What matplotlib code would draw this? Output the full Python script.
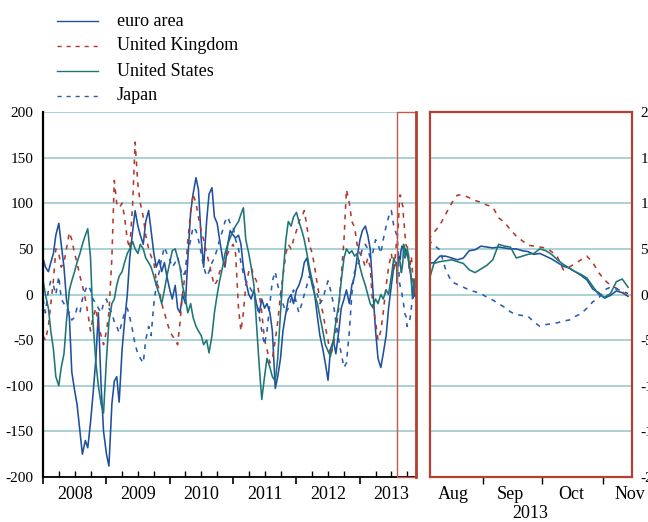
import numpy as np
import pandas as pd
import matplotlib
matplotlib.use("Agg")
import matplotlib.pyplot as plt
import matplotlib.dates as mdates
from matplotlib.lines import Line2D
from matplotlib.patches import Rectangle
from matplotlib.transforms import blended_transform_factory

plt.rcParams['font.family'] = ['Liberation Serif', 'DejaVu Serif']
plt.rcParams['axes.unicode_minus'] = False

# semi-monthly history, Jan 2008 - Aug 2013 (one row = half a year)
left_dates = pd.date_range("2008-01-01", "2013-08-01", freq="SMS")

euro_left = [
    40, 30, 25, 35, 45, 65, 78, 55, 30, -5, -25, -85,
    -105, -120, -150, -175, -160, -168, -140, -110, -70, -20, -100, -150,
    -175, -188, -120, -95, -90, -118, -60, -30, 0, 40, 70, 92,
    75, 65, 55, 80, 92, 70, 45, 30, 38, 25, 35, 20,
    5, -5, 10, -15, -20, 0, -10, 40, 90, 110, 128, 115,
    60, 30, 80, 110, 117, 85, 78, 60, 40, 30, 55, 70,
    65, 62, 65, 55, 30, 15, 0, -5, 5, -10, -20, -5,
    -15, -10, -20, -40, -103, -90, -70, -40, -20, -5, 0, -10,
    5, 10, 20, 35, 40, 25, 10, 0, -25, -45, -60, -75,
    -94, -60, -50, -65, -40, -15, -5, 5, -10, 10, 20, 40,
    60, 70, 75, 65, 50, 10, -40, -70, -80, -65, -45, -15,
    10, 30, 35,
]
uk_left = [
    -45, -50, -35, -10, 15, 50, 45, 30, 35, 50, 68, 60,
    45, 35, 20, 10, -5, -20, -40, -25, -15, -35, -45, -55,
    -40, -20, 40, 125, 100, 95, 100, 85, 60, 50, 100, 167,
    120, 100, 85, 65, 50, 42, 35, 15, 5, -10, -20, -30,
    -40, -45, -50, -55, -30, 0, 25, 60, 90, 110, 100, 85,
    70, 60, 45, 35, 20, 10, 15, 25, 30, 35, 45, 50,
    55, 45, -15, -40, -20, 10, 25, 30, 20, 15, 0, -20,
    -50, -60, -75, -70, -50, -30, 0, 20, 45, 55, 50, 60,
    70, 80, 85, 92, 75, 55, 45, 30, 10, -5, -20, -35,
    -50, -68, -55, -40, -15, 20, 60, 115, 100, 80, 74, 55,
    45, 40, 30, 40, 30, -10, -30, -50, -40, -20, 10, 30,
    45, 25, 60,
]
us_left = [
    16, 0, -15, -40, -60, -90, -100, -80, -65, -30, 5, 15,
    25, 35, 45, 55, 65, 72, 40, -30, -75, -100, -120, -130,
    -70, -30, -10, -5, 10, 20, 25, 35, 45, 50, 58, 50,
    45, 55, 50, 40, 35, 30, 20, 10, 0, -10, 5, 20,
    35, 48, 50, 40, 30, 10, -5, -20, -10, -25, -35, -40,
    -45, -55, -50, -64, -45, -20, 0, 15, 30, 45, 55, 62,
    70, 75, 80, 88, 95, 60, 45, 30, 10, -30, -80, -115,
    -90, -70, -80, -90, -95, -70, -20, 20, 60, 80, 75, 85,
    90, 80, 70, 60, 45, 30, 15, 0, -10, -24, -40, -55,
    -62, -68, -50, -30, -10, 15, 40, 50, 45, 48, 42, 45,
    30, 20, 10, 0, -10, -14, -5, -10, 0, -5, 5, 0,
    20, 40, 30,
]
japan_left = [
    -5, -20, 5, 15, 10, 0, 20, -5, -10, -15, -20, -28,
    -25, -15, -20, -5, 5, 10, 5, -5, -10, -15, -20, -10,
    -5, -15, -20, -30, -35, -42, -30, -20, -15, -25, -40, -55,
    -65, -70, -75, -50, -35, -45, -10, 10, 25, 40, 52, 45,
    38, 30, 35, 41, 30, 20, 25, 45, 60, 74, 70, 60,
    45, 30, 20, 25, 35, 40, 50, 60, 70, 80, 85, 78,
    74, 60, 50, 35, 23, 15, 10, 5, 0, -10, -25, -40,
    -55, -40, -10, 15, 25, 10, 0, -10, -20, -15, -5, 5,
    -10, -20, -10, 0, 10, 20, 15, 5, 0, -10, -5, 5,
    15, 5, -10, -30, -50, -65, -80, -75, -40, 0, 25, 30,
    40, 50, 55, 50, 40, 45, 60, 55, 45, 60, 75, 85,
    92, 75, 65,
]

# recent period, every 3 days from 4 Aug 2013
recent_dates = pd.date_range("2013-08-04", periods=35, freq="3D")
euro_recent = [34, 35, 42, 42, 40, 38, 40, 48, 49, 53, 52, 51, 52, 51, 50, 50, 48, 47,
               44, 45, 42, 39, 35, 31, 29, 25, 21, 16, 6, 2, -4, -1, 4, 2, -2]
uk_recent = [60, 68, 76, 88, 100, 109, 109, 106, 103, 101, 98, 96, 84, 79, 71, 64, 59, 54,
             53, 52, 51, 47, 41, 27, 30, 34, 38, 42, 35, 24, 16, 10, 7, 3, -2]
us_recent = [12, 34, 36, 37, 38, 36, 34, 27, 24, 28, 32, 38, 55, 53, 52, 40, 42, 44,
             45, 50, 48, 44, 38, 33, 29, 25, 22, 18, 9, 0, -3, 1, 14, 17, 8]
japan_recent = [60, 54, 49, 27, 14, 11, 8, 5, 3, 1, -3, -6, -10, -14, -19, -22, -23, -24,
                -30, -35, -33, -32, -31, -29, -28, -24, -21, -15, -8, -4, 5, 8, 6, 4, 1]

labels = ["euro area", "United Kingdom", "United States", "Japan"]
yticks = [-200, -150, -100, -50, 0, 50, 100, 150, 200]
years = [2008, 2009, 2010, 2011, 2012, 2013]
months = ["Aug", "Sep", "Oct", "Nov"]

colors = ["#1f4f9e", "#b23a2c", "#1d7675", "#2a5db0"]
dash = (0, (3, 3.5))
styles = ["-", dash, "-", dash]
grid_c = "#9ccacd"
red = "#b5402f"

left_series = [euro_left, uk_left, us_left, japan_left]
recent_series = [euro_recent, uk_recent, us_recent, japan_recent]

all_dates = left_dates.append(recent_dates)

fig = plt.figure(figsize=(6.48, 5.22), dpi=100)
W, H = 648, 522
ax1 = fig.add_axes([43 / W, 45 / H, 373 / W, 365 / H])
ax2 = fig.add_axes([430 / W, 45 / H, 202 / W, 365 / H])

# ---- left: full history
for lv, rv, c, ls in zip(left_series, recent_series, colors, styles):
    ax1.plot(all_dates, list(lv) + list(rv), color=c, linestyle=ls, lw=1.15)

x_end = pd.Timestamp("2013-11-20")
ax1.set_xlim(pd.Timestamp("2008-01-01"), x_end)
ax1.set_ylim(-200, 200)
ax1.set_yticks(yticks)
ax1.set_yticklabels([str(v) for v in yticks], fontsize=11)
ax1.tick_params(axis="y", length=0, pad=7)
for v in yticks:
    ax1.axhline(v, color=grid_c, lw=1.2, zorder=0)

ax1.xaxis.set_major_locator(mdates.YearLocator())
ax1.xaxis.set_minor_locator(mdates.MonthLocator(bymonth=[4, 7, 10]))
ax1.xaxis.set_major_formatter(plt.NullFormatter())
ax1.tick_params(axis="x", which="major", direction="out", length=5, width=1.2)
ax1.tick_params(axis="x", which="minor", direction="in", length=4, width=1.0)
trans1 = blended_transform_factory(ax1.transData, ax1.transAxes)
for y in years:
    ax1.text(pd.Timestamp(f"{y}-07-01"), -0.048, str(y), transform=trans1,
             ha="center", va="center", fontsize=13)

for s in ["top", "right"]:
    ax1.spines[s].set_visible(False)
ax1.spines["left"].set_linewidth(1.6)
ax1.spines["bottom"].set_linewidth(1.3)

# highlight of the zoomed period
x0 = mdates.date2num(pd.Timestamp("2013-08-02"))
x1 = mdates.date2num(x_end)
ax1.add_patch(Rectangle((x0, 0), x1 - x0, 1, transform=trans1, fill=False,
                        edgecolor="#c9574a", lw=1.0, clip_on=False, zorder=5))
ax1.plot([x1, x1], [0, 1], transform=trans1, color=red, lw=2.0, clip_on=False, zorder=6)

# ---- right: zoom on Aug-Nov 2013
for rv, c, ls in zip(recent_series, colors, styles):
    ax2.plot(recent_dates, rv, color=c, linestyle=ls, lw=1.15)
ax2.set_xlim(pd.Timestamp("2013-08-05"), pd.Timestamp("2013-11-16"))
ax2.set_ylim(-200, 200)
ax2.set_yticks(yticks)
ax2.yaxis.tick_right()
ax2.set_yticklabels([str(v) for v in yticks], fontsize=11, ha="left")
ax2.tick_params(axis="y", length=0, pad=6)
for v in yticks[1:-1]:
    ax2.axhline(v, color=grid_c, lw=1.2, zorder=0)
ax2.set_xticks([pd.Timestamp("2013-09-01"), pd.Timestamp("2013-10-01"),
                pd.Timestamp("2013-11-01")])
ax2.set_xticklabels([])
ax2.tick_params(axis="x", direction="out", length=5, width=1.0)
trans2 = blended_transform_factory(ax2.transData, ax2.transAxes)
month_pos = ["2013-08-17", "2013-09-15", "2013-10-16", "2013-11-15"]
for m, p in zip(months, month_pos):
    ax2.text(pd.Timestamp(p), -0.048, m, transform=trans2, ha="center",
             va="center", fontsize=13)
ax2.text(0.495, -0.1, "2013", transform=ax2.transAxes, ha="center",
         va="center", fontsize=13)
for s in ax2.spines.values():
    s.set_color(red)
    s.set_linewidth(1.6)

# ---- legend drawn at the top left
for i, (lab, c, ls) in enumerate(zip(labels, colors, styles)):
    yy = 1 - (21 + 25 * i) / H
    fig.add_artist(Line2D([57 / W, 98 / W], [yy, yy], color=c, linestyle=ls, lw=1.0,
                          transform=fig.transFigure))
    fig.text(117 / W, yy, lab, ha="left", va="center", fontsize=13)

fig.savefig("out.png", dpi=100)
